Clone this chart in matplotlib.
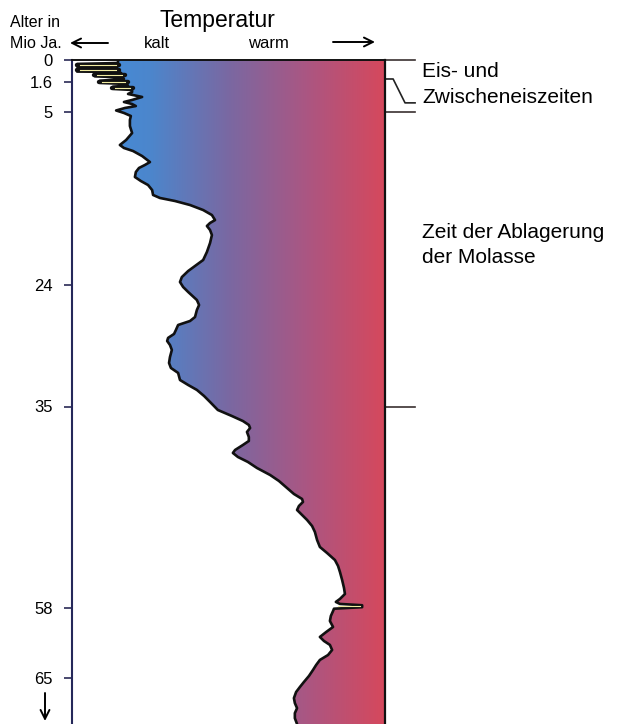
import numpy as np
import matplotlib
matplotlib.use("Agg")
import matplotlib.pyplot as plt
from matplotlib.colors import LinearSegmentedColormap
from matplotlib.patches import Polygon

plt.rcParams["font.family"] = ["Liberation Sans", "DejaVu Sans"]

# ── Data ──────────────────────────────────────────────────────────────────────

# age axis (Mio. Jahre) and its labels
TICK_AGES = [0, 1.6, 5, 24, 35, 58, 65]
TICK_LABELS = ["0", "1.6", "5", "24", "35", "58", "65"]
# the printed age axis is not linear: age -> vertical position (px from top)
SCALE_AGES = [0, 1.6, 5, 24, 35, 58, 65, 69.5]
SCALE_POS = [60, 81.7, 111.7, 285, 406.5, 607.7, 678.3, 724]

# temperature curve: relative temperature (0 = kalt, 100 = warm) vs age
AGE = [
    0.00, 0.22, 0.30, 0.48, 0.52, 0.59, 0.67, 0.85, 0.88, 0.96,
    1.05, 1.20, 1.29, 1.40, 1.53, 1.72, 1.86, 2.03, 2.17, 2.40,
    2.54, 2.77, 2.99, 3.33, 3.67, 3.90, 4.13, 4.36, 4.58, 4.86,
    5.14, 5.47, 5.91, 6.57, 7.34, 8.10, 8.65, 8.98, 9.31, 9.86,
    10.52, 10.84, 11.17, 11.61, 12.16, 12.60, 13.04, 13.59, 14.13, 14.46,
    14.79, 15.23, 15.78, 16.33, 16.88, 17.20, 17.53, 17.97, 18.52, 19.40,
    20.38, 21.26, 21.92, 22.47, 23.13, 23.67, 24.18, 24.63, 25.36, 25.81,
    26.26, 26.90, 27.26, 27.62, 28.07, 28.43, 28.79, 29.07, 29.43, 29.88,
    30.52, 31.06, 31.51, 31.96, 32.60, 33.05, 33.50, 34.05, 34.59, 35.40,
    36.09, 36.66, 37.11, 37.46, 37.91, 38.49, 38.94, 39.40, 39.97, 40.31,
    40.77, 41.34, 42.03, 42.83, 43.51, 44.31, 45.00, 45.57, 45.91, 46.37,
    46.83, 47.29, 47.97, 48.66, 49.34, 50.26, 51.06, 51.75, 52.55, 53.23,
    53.91, 54.83, 55.74, 56.43, 57.00, 57.34, 57.57, 57.72, 57.94, 58.10,
    58.33, 58.82, 59.32, 59.91, 60.41, 60.90, 61.30, 61.69, 62.19, 62.69,
    63.18, 63.68, 64.17, 64.77, 65.36, 65.86, 66.35, 66.95, 67.44, 67.94,
    68.43, 68.93, 69.50,
]
TEMP = [
    14.7, 14.7, 1.6, 1.6, 14.4, 14.4, 1.6, 1.6, 14.7, 15.7,
    7.3, 7.3, 16.3, 16.6, 8.9, 8.9, 17.3, 17.9, 13.1, 13.1,
    19.2, 19.2, 17.9, 22.4, 19.2, 16.6, 19.2, 20.4, 16.9, 14.1,
    16.6, 18.8, 18.5, 18.5, 19.2, 17.3, 15.3, 16.6, 19.5, 22.4,
    24.9, 23.3, 21.4, 20.4, 20.1, 22.0, 24.3, 25.6, 25.9, 28.1,
    32.9, 37.7, 41.9, 44.7, 45.7, 44.1, 43.1, 44.1, 44.7, 44.1,
    43.1, 41.9, 39.3, 37.1, 35.1, 34.5, 35.5, 37.1, 39.9, 40.6,
    39.9, 39.3, 37.7, 33.9, 33.2, 32.6, 30.7, 30.4, 31.3, 31.9,
    31.3, 31.0, 31.6, 33.9, 34.5, 37.1, 39.9, 42.2, 44.1, 46.6,
    51.1, 54.6, 56.5, 56.9, 55.9, 56.5, 56.5, 54.6, 52.1, 51.4,
    53.0, 56.2, 59.1, 63.3, 66.1, 68.7, 70.9, 73.5, 73.8, 72.5,
    71.9, 73.2, 75.1, 76.7, 77.6, 78.3, 79.2, 81.5, 84.0, 85.0,
    85.6, 86.3, 86.9, 87.2, 85.6, 84.3, 85.6, 92.7, 92.7, 83.7,
    83.4, 82.7, 82.4, 83.4, 81.2, 79.2, 80.5, 82.4, 83.1, 81.8,
    79.2, 78.0, 77.0, 75.7, 74.1, 72.8, 71.6, 70.9, 71.2, 71.9,
    71.2, 71.2, 71.9,
]

# short excursions drawn as dark bars with a pale core
SPIKE_AGES = [0.39, 0.76, 1.12, 1.62, 2.29, 57.83]
SPIKE_FROM = [14.0, 14.0, 16.0, 17.0, 18.5, 85.0]
SPIKE_TO = [2.5, 2.5, 8.0, 9.6, 13.8, 92.0]
SPIKE_BAR = [True, True, True, True, True, False]

# marks on the right-hand side
RIGHT_TICK_AGES = [0, 5, 35]
BRACKET_AGES = [1.40, 1.40, 4.0, 4.0]
BRACKET_TEMP = [100.3, 102.6, 106.4, 109.6]

GRADIENT = ["#3f8fe0", "#4c86cc", "#7a68a2", "#ab5682", "#d6485c"]

W, H = 619, 724


def fx(px):
    return px / W


def fy(py):
    return 1 - py / H


def to_pos(age):
    return np.interp(age, SCALE_AGES, SCALE_POS)


def to_age(pos):
    return np.interp(pos, SCALE_POS, SCALE_AGES)


# ── Plot ──────────────────────────────────────────────────────────────────────

fig = plt.figure(figsize=(W / 100, H / 100), dpi=100)
ax = fig.add_axes([fx(72), 0, fx(385) - fx(72), fy(60)])
ax.set_yscale("function", functions=(to_pos, to_age))

cmap = LinearSegmentedColormap.from_list("temp", GRADIENT)
grad = np.linspace(0, 1, 256).reshape(1, -1)
im = ax.imshow(grad, cmap=cmap, aspect="auto", extent=[0, 1, 0, 1],
               transform=ax.transAxes, zorder=1, interpolation="bilinear")

verts = list(zip(TEMP, AGE)) + [(100, AGE[-1]), (100, AGE[0])]
clip = Polygon(verts, closed=True, transform=ax.transData,
               facecolor="none", edgecolor="none")
ax.add_patch(clip)
im.set_clip_path(clip)

ax.plot(TEMP, AGE, color="#111111", lw=1.9, solid_joinstyle="round",
        solid_capstyle="round", zorder=3)
for a, t0, t1, bar in zip(SPIKE_AGES, SPIKE_FROM, SPIKE_TO, SPIKE_BAR):
    if bar:
        ax.plot([t0 + 1, t1 - 1], [a, a], color="#111111", lw=3.2,
                solid_capstyle="round", zorder=3.5)
    ax.plot([t0, t1], [a, a], color="#f2eca2", lw=0.8, zorder=4)

ax.set_xlim(0, 100)
ax.set_ylim(SCALE_AGES[-1], 0)
ax.set_xticks([])
ax.set_yticks(TICK_AGES)
ax.set_yticklabels(TICK_LABELS, fontsize=12)
ax.tick_params(axis="y", direction="out", length=6, width=1.2,
               color="#2a2a55", pad=8)

ax.spines["bottom"].set_visible(False)
ax.spines["left"].set_color("#25285a")
ax.spines["left"].set_linewidth(1.5)
ax.spines["top"].set_linewidth(1.4)
ax.spines["right"].set_linewidth(1.6)
for s in ("top", "right"):
    ax.spines[s].set_color("#111111")

# right-hand marks
for a in RIGHT_TICK_AGES:
    ax.plot([100, 109.6], [a, a], color="#3a3030", lw=1.2, clip_on=False)
ax.plot(BRACKET_TEMP, BRACKET_AGES, color="#222222", lw=1.2, clip_on=False)

# header
fig.text(fx(217), fy(27), "Temperatur", fontsize=16.5, ha="center",
         va="baseline")
fig.text(fx(10), fy(27), "Alter in", fontsize=11.5, va="baseline")
fig.text(fx(10), fy(48), "Mio Ja.", fontsize=11.5, va="baseline")
fig.text(fx(157), fy(48), "kalt", fontsize=12, ha="center", va="baseline")
fig.text(fx(268), fy(48), "warm", fontsize=12, ha="center", va="baseline")

arrow = dict(arrowstyle="->", lw=1.4, color="black",
             shrinkA=0, shrinkB=0, mutation_scale=16)
ax.annotate("", xy=(70, H - 43), xytext=(108, H - 43),
            xycoords="figure pixels", textcoords="figure pixels",
            arrowprops=arrow)
ax.annotate("", xy=(375, H - 42), xytext=(333, H - 42),
            xycoords="figure pixels", textcoords="figure pixels",
            arrowprops=arrow)
ax.annotate("", xy=(45, H - 721), xytext=(45, H - 693),
            xycoords="figure pixels", textcoords="figure pixels",
            arrowprops=arrow)

# right labels
fig.text(fx(422), fy(77), "Eis- und", fontsize=15, va="baseline")
fig.text(fx(422), fy(103), "Zwischeneiszeiten", fontsize=15, va="baseline")
fig.text(fx(422), fy(238), "Zeit der Ablagerung", fontsize=15, va="baseline")
fig.text(fx(422), fy(263), "der Molasse", fontsize=15, va="baseline")

fig.savefig("out.png", dpi=100)
